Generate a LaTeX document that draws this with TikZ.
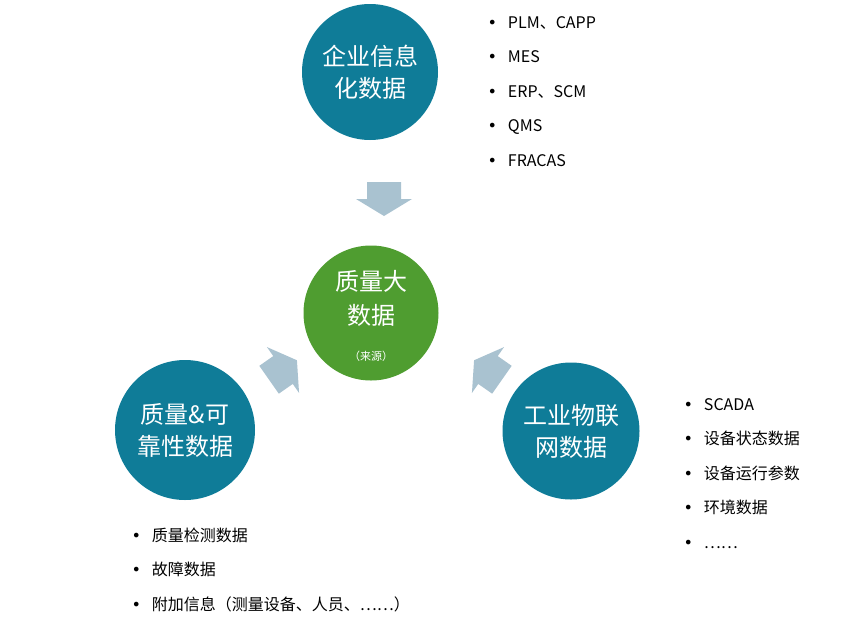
\documentclass[tikz,border=0pt]{standalone}
\usepackage{fontspec}
\setmainfont{Noto Sans CJK SC}
\newfontfamily\dv{DejaVu Sans}
\newcommand{\bul}{{\dv •}\hspace{11pt}}
\definecolor{teal}{HTML}{0F7C98}
\definecolor{grn}{HTML}{4F9D30}
\definecolor{arr}{HTML}{A9C2D0}
\tikzset{
 circ/.style={circle,fill=#1,text=white,align=center,font=\fontsize{24}{32}\selectfont,inner sep=0pt},
 lst/.style={align=left,anchor=north west,font=\fontsize{16}{34.5}\selectfont}
}
\newcommand{\blkarrow}[3]{\fill[arr,shift={(#1,#2)},rotate=#3] (-17,-17) -- (0,-17) -- (0,-28) -- (17,0) -- (0,28) -- (0,17) -- (-17,17) -- cycle;}
\begin{document}
\begin{tikzpicture}[x=1pt,y=-1pt]
\useasboundingbox (0,0) rectangle (867,630);
\node[circ=teal,minimum size=136pt] (top) at (370,72) {企业信息\\化数据};
\node[circ=grn,minimum size=135pt] (mid) at (371,313) {};
\node[text=white,align=center,font=\fontsize{24}{34}\selectfont] (midt) at (371,298) {质量大\\数据};
\node[text=white,font=\fontsize{11}{12}\selectfont] (src) at (371,356) {（来源）};
\node[circ=teal,minimum size=140pt] (left) at (185,430) {质量\&可\\靠性数据};
\node[circ=teal,minimum size=137pt] (right) at (571,431) {工业物联\\网数据};
\blkarrow{384}{199}{-90}
\blkarrow{283}{370}{35}
\blkarrow{488}{370}{145}
\node[lst] (l1) at (484,13) {\bul PLM、CAPP\\\bul MES\\\bul ERP、SCM\\\bul QMS\\\bul FRACAS};
\node[lst] (l2) at (680,395) {\bul SCADA\\\bul 设备状态数据\\\bul 设备运行参数\\\bul 环境数据\\\bul ……};
\node[lst] (l3) at (128,524) {\bul 质量检测数据\\\bul 故障数据\\\bul 附加信息（测量设备、人员、……）};
\end{tikzpicture}
\end{document}
